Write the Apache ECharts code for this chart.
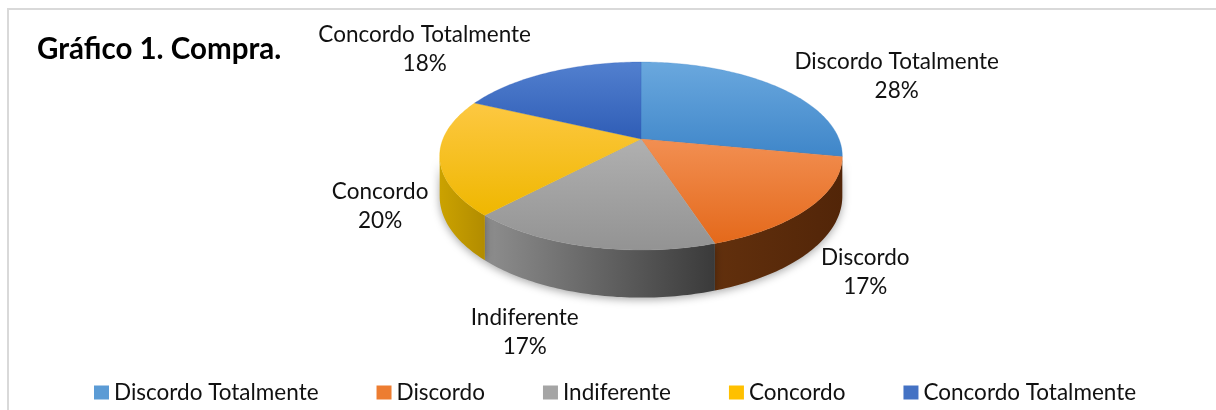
<!DOCTYPE html>
<html>
<head>
<meta charset="utf-8">
<script src="https://cdn.jsdelivr.net/npm/echarts@6/dist/echarts.min.js"></script>
<style>
html,body{margin:0;padding:0;background:#fff;}
#chart{width:1216px;height:410px;}
</style>
</head>
<body>
<div id="chart"></div>
<script>
// ---- data ----
const categories = ['Discordo Totalmente', 'Discordo', 'Indiferente', 'Concordo', 'Concordo Totalmente'];
const values = [28, 17, 17, 20, 18];
const titleText = 'Gráfico 1. Compra.';

// ---- styles ----
const baseColors = ['#5b9bd5', '#ed7d31', '#a5a5a5', '#ffc000', '#4472c4'];
const topGrad = [
  ['#6aa8de', '#3f86c9'],
  ['#f28f52', '#e4691b'],
  ['#b0b0b0', '#939393'],
  ['#fdc842', '#efb700'],
  ['#5280cf', '#2f5db6']
];
const sideGrad = [
  ['#2e5f8e', '#2a5582'],
  ['#62300d', '#522508'],
  ['#8e8e8e', '#3a3a3a'],
  ['#cba200', '#b28c00'],
  ['#2b4a85', '#223c6e']
];
// label nudges (layout only)
const labelNudge = [[89, 1], [6, -1], [-47, 1], [-7, 4], [-105, -9]];

// ---- geometry (pixel layout of the 3D pie) ----
const CX = 641, CY = 139, R = 198, A = 90.9, K = 0.181, T = 39;
const FONT = 'Lato, "Noto Sans", sans-serif';

function proj(theta, f, drop) {
  const z = f * Math.sin(theta);
  const w = 1 - K * z;
  return [CX + R * f * Math.cos(theta) / w, CY + A * z / w + (drop ? T / w : 0)];
}
function sliceAngles(i) {
  const total = values.reduce((a, b) => a + b, 0);
  let s = 0;
  for (let j = 0; j < i; j++) s += values[j];
  const a0 = -Math.PI / 2 + s / total * 2 * Math.PI;
  const a1 = a0 + values[i] / total * 2 * Math.PI;
  return [a0, a1, values[i] / total];
}
function arcPts(a0, a1, f, drop) {
  const pts = [];
  const n = Math.max(2, Math.ceil((a1 - a0) / (Math.PI / 180)));
  for (let k = 0; k <= n; k++) pts.push(proj(a0 + (a1 - a0) * k / n, f, drop));
  return pts;
}

function makeRender(i) {
  return function (params, api) {
    const [a0, a1, frac] = sliceAngles(i);
    const children = [];
    const lo = Math.asin(K), hi = Math.PI - Math.asin(K);
    const s0 = Math.max(a0, lo), s1 = Math.min(a1, hi);
    if (s1 > s0) {
      const top = arcPts(s0, s1, 1, false);
      const bot = arcPts(s0, s1, 1, true).reverse();
      children.push({
        type: 'polygon',
        z2: 1,
        shape: { points: top.concat(bot) },
        style: {
          fill: new echarts.graphic.LinearGradient(0, 0, 1, 0, [
            { offset: 0, color: sideGrad[i][0] }, { offset: 1, color: sideGrad[i][1] }
          ]),
          shadowBlur: 8, shadowColor: 'rgba(0,0,0,0.35)', shadowOffsetY: 2
        }
      });
    }
    const facePts = [[CX, CY]].concat(arcPts(a0, a1, 1, false));
    children.push({
      type: 'polygon',
      z2: 5,
      shape: { points: facePts },
      style: {
        fill: new echarts.graphic.LinearGradient(0, 0, 0, 1, [
          { offset: 0, color: topGrad[i][0] }, { offset: 1, color: topGrad[i][1] }
        ]),
        stroke: topGrad[i][1], lineWidth: 0.3
      }
    });
    // label
    const mid = (a0 + a1) / 2;
    const p = proj(mid, 1.25, Math.sin(mid) > 0);
    children.push({
      type: 'text',
      z2: 10,
      style: {
        text: categories[i] + '\n' + Math.round(frac * 100) + '%',
        x: p[0] + labelNudge[i][0],
        y: p[1] + labelNudge[i][1],
        align: 'center',
        verticalAlign: 'middle',
        font: '22.5px ' + FONT,
        lineHeight: 29,
        fill: '#111'
      }
    });
    return { type: 'group', children: children };
  };
}

const series = categories.map((name, i) => ({
  type: 'custom',
  name: name,
  coordinateSystem: 'none',
  silent: true,
  animation: false,
  itemStyle: { color: baseColors[i] },
  data: [values[i]],
  renderItem: makeRender(i)
}));

const chart = echarts.init(document.getElementById('chart'), null, { renderer: 'canvas' });
chart.setOption({
  animation: false,
  color: baseColors,
  title: {
    text: titleText,
    left: 32,
    top: 29,
    textStyle: { fontFamily: FONT, fontWeight: 'bold', fontSize: 29.5, color: '#000' }
  },
  legend: {
    data: categories,
    left: 89,
    top: 376,
    icon: 'rect',
    itemWidth: 15,
    itemHeight: 14,
    itemGap: 58,
    textStyle: { fontFamily: FONT, fontSize: 22.5, color: '#111' }
  },
  graphic: [{
    type: 'rect',
    z: -10,
    shape: { x: 8, y: 9, width: 1300, height: 500 },
    style: { fill: 'none', stroke: '#d9d9d9', lineWidth: 2 }
  }],
  series: series
});
</script>
</body>
</html>
